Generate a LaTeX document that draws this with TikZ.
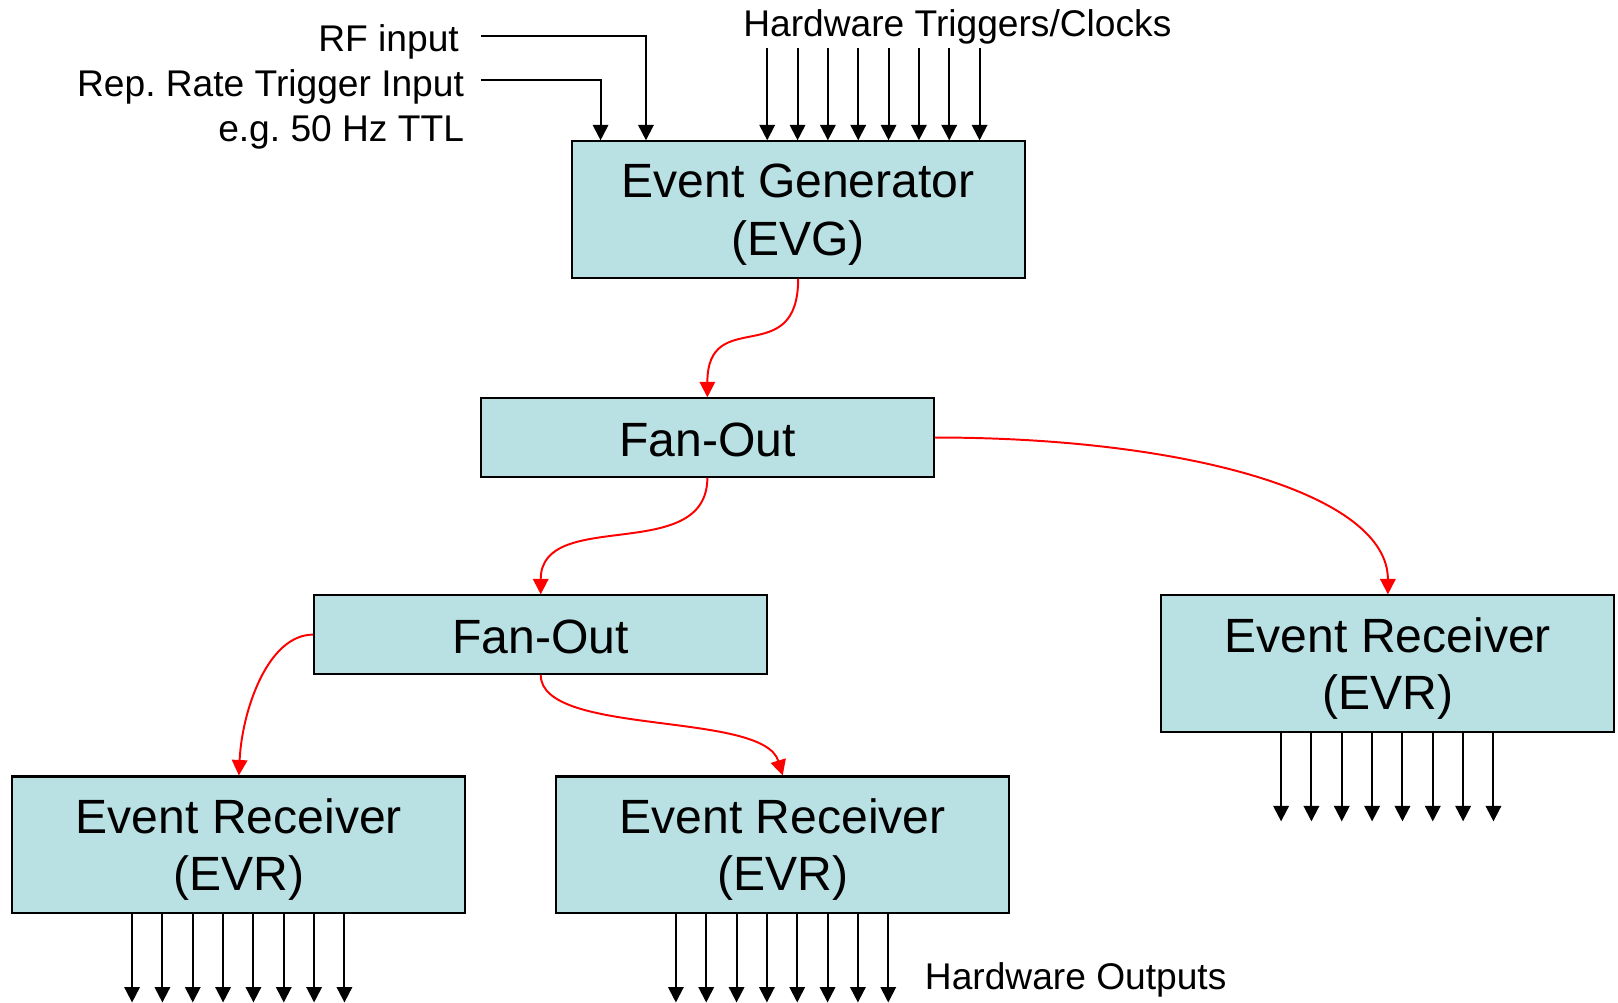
\documentclass[tikz,border=0pt]{standalone}
\usepackage{fontspec}
\setmainfont{Liberation Sans}
\usetikzlibrary{arrows.meta,calc}
\definecolor{boxfill}{RGB}{185,224,227}
\begin{document}
\begin{tikzpicture}[x=0.5pt,y=-0.5pt,
  blockbox/.style={draw=black,line width=1pt,fill=boxfill,minimum width=219.5pt,inner sep=0pt,align=center,font=\fontsize{23.3}{28}\selectfont},
  tallbox/.style={blockbox,minimum height=66pt,text depth=-1pt},
  flatbox/.style={blockbox,minimum height=38pt,execute at begin node={\rule{0pt}{19pt}}},
  lbl/.style={inner sep=0pt,font=\fontsize{18}{21}\selectfont},
  blk/.style={line width=0.95pt,-{Triangle[width=7.5pt,length=7.5pt]}},
  sig/.style={red,line width=0.95pt,-{Triangle[width=7.5pt,length=7.5pt]}}]
\useasboundingbox (0,0) rectangle (1568,972);

\node[tallbox] (evg) at (773.5,203) {Event Generator\\(EVG)};
\node[flatbox] (fo1) at (685.5,424) {Fan-Out};
\node[flatbox] (fo2) at (524,615) {Fan-Out};
\node[tallbox] (evr3) at (1345,643) {Event Receiver\\(EVR)};
\node[tallbox] (evr1) at (231.5,818.5) {Event Receiver\\(EVR)};
\node[tallbox] (evr2) at (758.5,818.5) {Event Receiver\\(EVR)};

\node[lbl,anchor=base east] (rf) at (445,50) {RF input};
\node[lbl,anchor=base east] (rep) at (450,94) {Rep.\ Rate Trigger Input};
\node[lbl,anchor=base east] (eg) at (450,137) {e.g.\ 50 Hz TTL};
\node[lbl,anchor=base west] (hwt) at (720,35) {Hardware Triggers/Clocks};
\node[lbl,anchor=base west] (hwo) at (896,959) {Hardware Outputs};

\coordinate (rfs) at (466,35);
\coordinate (reps) at (466,78);
\draw[blk] (rfs) -| ($(evg.north west)+(73,0)$);
\draw[blk] (reps) -| ($(evg.north west)+(29,0)$);

\foreach \i in {0,...,7}
  \draw[blk] ($(evg.north west)+(190.5+29.4*\i,-89)$) -- ($(evg.north west)+(190.5+29.4*\i,0)$);

\foreach \n in {evr1,evr2,evr3}
  \foreach \i in {0,...,7}
    \draw[blk] ($(\n.south west)+(117+29.4*\i,0)$) -- ++(0,86);

\draw[sig] (evg.south) .. controls +(0,90) and +(0,-90) .. (fo1.north);
\draw[sig] (fo1.south) .. controls +(0,85) and +(0,-85) .. (fo2.north);
\draw[sig] (fo1.east) .. controls +(245,0) and +(0,-97) .. (evr3.north);
\draw[sig] (fo2.west) .. controls +(-44,0) and +(3,-63) .. (evr1.north);
\draw[sig] (fo2.south) .. controls +(0,60) and +(-19,-63) .. (evr2.north);
\end{tikzpicture}
\end{document}
